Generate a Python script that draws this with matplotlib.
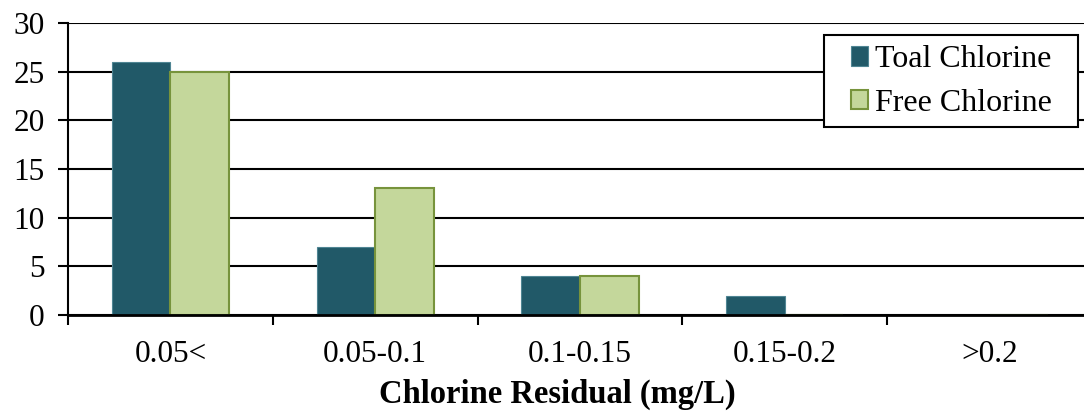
import matplotlib.pyplot as plt
from matplotlib.patches import Rectangle
import numpy as np

categories = ["0.05<", "0.05-0.1", "0.1-0.15", "0.15-0.2", ">0.2"]
total_chlorine = [26, 7, 4, 2, 0]
free_chlorine = [25, 13, 4, 0, 0]

plt.rcParams["font.family"] = ["Liberation Serif", "DejaVu Serif"]

fig = plt.figure(figsize=(10.84, 4.12), dpi=100)
ax = fig.add_axes([68 / 1084, 97 / 412, 1024 / 1084, 292 / 412])
ax.set_axisbelow(True)

x = np.arange(len(categories))
w = 0.286
ax.bar(x - w / 2, total_chlorine, w, color="#215968", edgecolor="#4f8593",
       linewidth=0.8, label="Toal Chlorine", zorder=2)
ax.bar(x + w / 2, free_chlorine, w, color="#c4d79b", edgecolor="#77933c",
       linewidth=1.5, label="Free Chlorine", zorder=2)

ax.set_xlim(-0.5, 4.5)
ax.set_ylim(0, 30)
ax.set_yticks(range(0, 31, 5))
ax.yaxis.grid(True, color="black", linewidth=1.5)

# category ticks between groups, labels centred on groups
ax.set_xticks(np.arange(-0.5, 5, 1))
ax.set_xticklabels([])
ax.set_xticks(x, minor=True)
ax.set_xticklabels(categories, minor=True)
ax.tick_params(axis="x", which="minor", length=0, pad=18, labelsize=22.5)
ax.tick_params(axis="x", which="major", length=7, width=1.5, direction="out")
ax.tick_params(axis="y", length=7, width=1.5, direction="out", pad=10, labelsize=22.5)

for side in ["top", "right"]:
    ax.spines[side].set_visible(False)
ax.spines["left"].set_linewidth(1.5)
ax.spines["bottom"].set_linewidth(2)
ax.spines["bottom"].set_zorder(3)

ax.set_xlabel("Chlorine Residual (mg/L)", fontsize=23.5, fontweight="bold", labelpad=7)
ax.xaxis.label.set_x(0.4775)

# legend box drawn separately so the side padding can differ from the top
box = Rectangle((0.7383, 0.6438), 0.248, 0.3151, transform=ax.transAxes,
                facecolor="white", edgecolor="black", linewidth=1.5, zorder=4)
ax.add_patch(box)
leg = ax.legend(loc="center left", bbox_to_anchor=(0.7646, 0.7997), fontsize=23,
                frameon=False, handlelength=0.54, handleheight=0.54,
                handletextpad=0.22, borderpad=0, labelspacing=0.45, borderaxespad=0)
leg.set_zorder(5)

plt.savefig("out.png", dpi=100)
plt.close()
